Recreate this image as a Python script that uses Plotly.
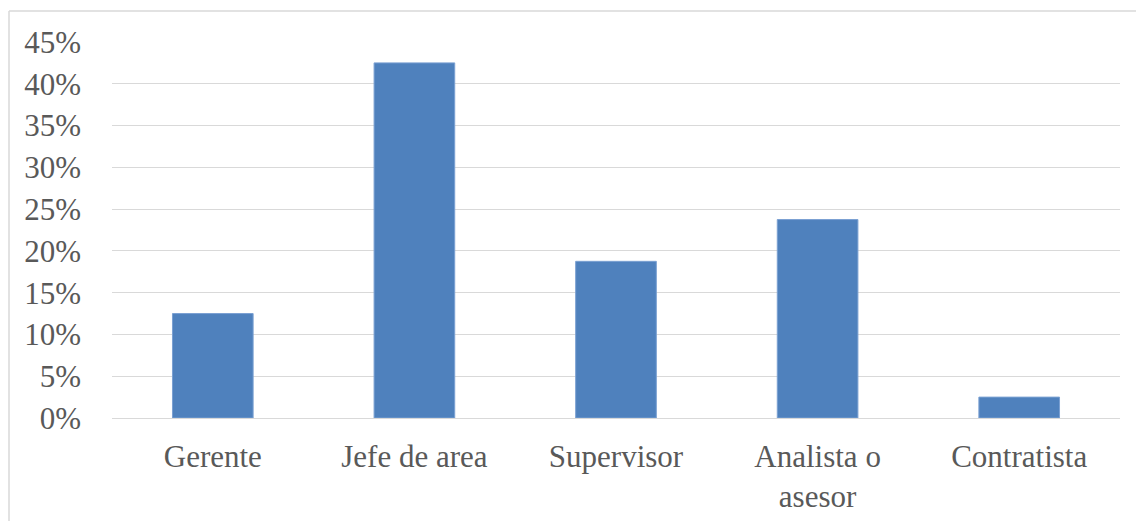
import plotly.graph_objects as go

# Share of respondents by job position
categories = ["Gerente", "Jefe de area", "Supervisor", "Analista o<br>asesor", "Contratista"]
shares = [12.5, 42.5, 18.75, 23.75, 2.5]
tick_values = [0, 5, 10, 15, 20, 25, 30, 35, 40, 45]
tick_labels = [f"{v}%" for v in tick_values]

text_color = "#595959"
grid_color = "#d9d9d9"
font_family = "Liberation Serif, Times New Roman, serif"

fig = go.Figure(
    go.Bar(
        x=categories,
        y=shares,
        marker=dict(color="#4f81bd", line=dict(color="#7aa0d2", width=1)),
        width=0.4,
        hoverinfo="skip",
    )
)

fig.update_layout(
    width=1136,
    height=521,
    margin=dict(l=112, r=16, t=42, b=103),
    paper_bgcolor="white",
    plot_bgcolor="white",
    showlegend=False,
    font=dict(family=font_family, size=31, color=text_color),
    xaxis=dict(
        showgrid=False,
        showline=False,
        ticks="",
        automargin=False,
        ticklabelstandoff=17,
        tickfont=dict(family=font_family, size=31, color=text_color),
    ),
    yaxis=dict(
        range=[0, 45],
        tickvals=tick_values,
        ticktext=tick_labels,
        showgrid=True,
        gridcolor=grid_color,
        gridwidth=1.3,
        zeroline=True,
        zerolinecolor=grid_color,
        zerolinewidth=1.3,
        showline=False,
        ticks="",
        automargin=False,
        ticklabelstandoff=30,
        tickfont=dict(family=font_family, size=31, color=text_color),
    ),
    shapes=[
        # chart frame (left and top edges)
        dict(type="line", xref="paper", yref="paper",
             x0=-103 / 1008, x1=-103 / 1008, y0=-103 / 376 - 0.01, y1=(42 - 11) / 376 + 1,
             line=dict(color=grid_color, width=1.5)),
        dict(type="line", xref="paper", yref="paper",
             x0=-103 / 1008, x1=1 + 20 / 1008, y0=(42 - 11) / 376 + 1, y1=(42 - 11) / 376 + 1,
             line=dict(color=grid_color, width=1.5)),
    ],
)

fig.write_html("out.html")
